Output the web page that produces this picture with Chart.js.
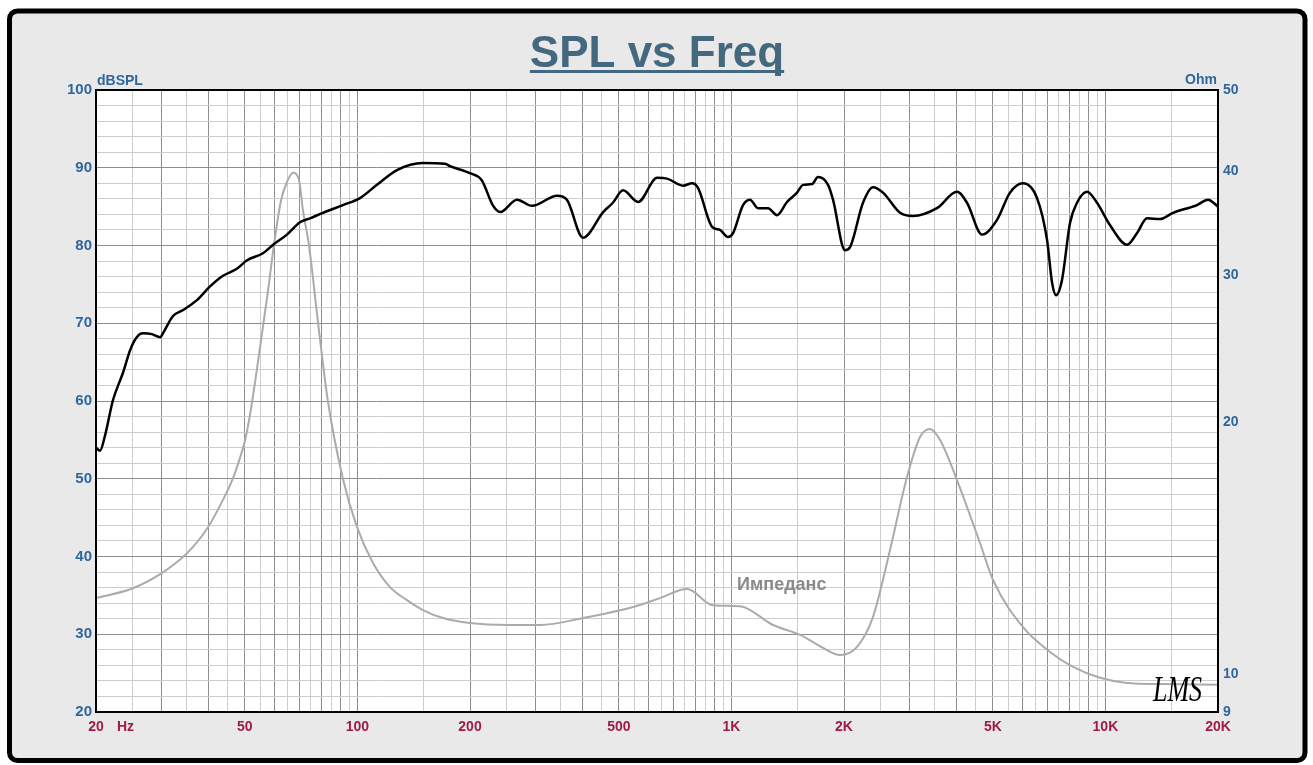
<!DOCTYPE html>
<html>
<head>
<meta charset="utf-8">
<title>SPL vs Freq</title>
<script src="https://cdn.jsdelivr.net/npm/chart.js@4.4.0/dist/chart.umd.min.js"></script>
<style>
  html, body { margin: 0; padding: 0; background: #fff; }
  canvas { display: block; }
</style>
</head>
<body>
<canvas id="splChart" width="1313" height="765"></canvas>
<script>
// SPL curve (Hz / dB)
const splFreq = [20, 20.5, 21.1, 22.2, 23.6, 24.7, 25.7, 26.7, 28.2, 29.7, 30.2, 32.1, 34.2, 37.3, 40.3, 43.7, 47.6, 50.7, 55.9, 59.5,
  64.8, 70.2, 74.7, 80.9, 91.5, 101.6, 112.8, 127.6, 149.7, 171.5, 176.8, 200, 215, 230, 241, 267, 293, 342, 363, 401,
  454, 482, 513, 563, 633, 673, 742, 785, 814, 888, 932, 979, 1010, 1074, 1121, 1178, 1253, 1324, 1408, 1498,
  1554, 1643, 1704, 1813, 1869, 2012, 2076, 2248, 2391, 2543, 2824, 3059, 3545, 4010, 4265, 4679, 5131, 5558, 6022, 6564,
  6982, 7201, 7381, 7656, 8041, 8396, 8930, 9498, 10290, 11425, 12150, 12920, 13996, 15160, 17578, 18804, 20000];
const splDb = [54.0, 53.6, 55.4, 60.1, 63.6, 66.6, 68.2, 68.7, 68.6, 68.2, 68.7, 70.9, 71.7, 73.0, 74.7, 76.1, 77.0, 78.1, 79.0, 80.1,
  81.4, 83.0, 83.5, 84.2, 85.2, 86.1, 87.8, 89.7, 90.6, 90.5, 90.2, 89.3, 88.4, 85.2, 84.3, 85.9, 85.1, 86.4, 85.9, 81.0,
  84.3, 85.5, 87.1, 85.6, 88.7, 88.6, 87.7, 88.0, 87.4, 82.4, 82.0, 81.1, 81.6, 85.2, 85.9, 84.8, 84.8, 83.9, 85.6, 86.8,
  87.8, 87.9, 88.8, 87.8, 85.9, 79.4, 79.8, 85.5, 87.5, 86.8, 84.2, 83.8, 84.8, 86.9, 85.5, 81.4, 83.3, 86.8, 88.0, 86.1,
  80.7, 75.2, 73.6, 75.6, 82.9, 85.5, 86.9, 85.5, 82.6, 80.1, 81.6, 83.5, 83.4, 84.2, 85.2, 85.9, 85.0];

// Impedance curve (Hz / Ohm)
const impFreq = [20, 25.1, 30, 33.5, 36.3, 39.9, 43.7, 46.5, 48.5, 50.1, 51.6, 53.6, 55.6, 57.7, 59.8, 62.5, 64.8, 67.3, 69.8, 71.5,
  74.2, 78.5, 83.4, 91.5, 99.7, 110.1, 122.2, 135.7, 149.7, 169.4, 200, 251, 308, 401, 546, 644, 761, 893, 1054, 1292,
  1526, 1758, 1952, 2167, 2391, 2655, 2948, 3194, 3397, 3613, 4010, 4620, 5007, 6022, 7110, 8194, 9674, 11425, 13996, 20000];
const impOhm = [12.32, 12.66, 13.20, 13.69, 14.18, 14.99, 16.15, 17.15, 18.12, 19.05, 20.4, 22.8, 25.6, 28.8, 32.6, 36.9, 38.8, 39.8, 39.0, 35.9,
  32.6, 26.3, 21.2, 17.11, 14.99, 13.57, 12.70, 12.25, 11.92, 11.66, 11.50, 11.44, 11.44, 11.66, 12.02, 12.32, 12.63, 12.08, 12.05, 11.44,
  11.13, 10.74, 10.53, 10.77, 11.70, 14.07, 17.2, 19.21, 19.64, 19.05, 17.06, 14.34, 12.95, 11.37, 10.62, 10.19, 9.89, 9.75, 9.72, 9.70];

// Tick labels
const freqTickValues = [20, 50, 100, 200, 500, 1000, 2000, 5000, 10000, 20000];
const freqTickLabels = ['20', '50', '100', '200', '500', '1K', '2K', '5K', '10K', '20K'];
const ohmTicks = [9, 10, 20, 30, 40, 50];

const labelBlue = '#2f679b';
const labelRed = '#9e1b4c';
const majorGrid = '#8e8e8e';
const minorGrid = '#cdcdcd';

// Grid frequencies: half-decade steps (20,25,30 ... 150,200 ... 15K,20K)
function buildFreqGrid() {
    const grid = [];
    [10, 100, 1000, 10000].forEach(dec => {
        for (let f = Math.max(dec, 20); f < dec * 10; f += dec / 2) {
            if (f <= 20000) grid.push(f);
        }
    });
    return grid;
}

function isMajorFreq(v) {
    const m = v / Math.pow(10, Math.floor(Math.log10(v) + 1e-9));
    return Math.abs(m - Math.round(m)) < 1e-6;
}

const dbGrid = [];
for (let v = 20; v <= 100; v += 2) dbGrid.push(v);

// Frame, title and free text
const framePlugin = {
    id: 'frame',
    beforeDraw(chart) {
        const ctx = chart.ctx;
        const a = chart.chartArea;
        ctx.save();
        ctx.fillStyle = '#ffffff';
        ctx.fillRect(0, 0, chart.width, chart.height);
        ctx.beginPath();
        ctx.roundRect(9.5, 11, 1295.5, 749.5, 8);
        ctx.fillStyle = '#e9e9e9';
        ctx.fill();
        ctx.lineWidth = 5;
        ctx.strokeStyle = '#000';
        ctx.stroke();
        ctx.fillStyle = '#ffffff';
        ctx.fillRect(a.left, a.top, a.right - a.left, a.bottom - a.top);
        ctx.restore();
    },
    afterDraw(chart) {
        const ctx = chart.ctx;
        const a = chart.chartArea;
        ctx.save();
        ctx.lineWidth = 2;
        ctx.strokeStyle = '#000';
        ctx.strokeRect(a.left, a.top, a.right - a.left, a.bottom - a.top);

        // title with underline
        ctx.font = 'bold 44px "Liberation Sans", Arial, sans-serif';
        ctx.fillStyle = '#44697f';
        ctx.textAlign = 'center';
        ctx.textBaseline = 'alphabetic';
        const title = 'SPL vs Freq';
        ctx.fillText(title, 657, 67);
        const w = ctx.measureText(title).width;
        ctx.fillRect(657 - w / 2, 70, w, 3);

        ctx.font = 'bold 14px "Liberation Sans", Arial, sans-serif';
        ctx.fillStyle = labelBlue;
        ctx.textAlign = 'left';
        ctx.fillText('dBSPL', 97, 85);
        ctx.textAlign = 'right';
        ctx.fillText('Ohm', 1217, 84);

        ctx.fillStyle = labelRed;
        ctx.textAlign = 'left';
        ctx.textBaseline = 'middle';
        ctx.fillText('Hz', 117, 727);

        ctx.font = 'bold 18px "Liberation Sans", Arial, sans-serif';
        ctx.fillStyle = '#8a8a8a';
        ctx.textBaseline = 'alphabetic';
        ctx.fillText('Импеданс', 737, 590);

        ctx.translate(1153, 701);
        ctx.scale(1, 1.4);
        ctx.font = 'italic 26px "Liberation Serif", serif';
        ctx.fillStyle = '#000';
        ctx.fillText('LMS', 0, 0);
        ctx.restore();
    }
};

const chart = new Chart(document.getElementById('splChart'), {
    type: 'line',
    data: {
        datasets: [{
            label: 'SPL',
            data: splFreq.map((f, i) => ({ x: f, y: splDb[i] })),
            yAxisID: 'y',
            borderColor: '#000',
            borderWidth: 2.5,
            pointRadius: 0,
            cubicInterpolationMode: 'monotone'
        }, {
            label: 'Импеданс',
            data: impFreq.map((f, i) => ({ x: f, y: impOhm[i] })),
            yAxisID: 'y1',
            borderColor: '#ababab',
            borderWidth: 2,
            pointRadius: 0,
            cubicInterpolationMode: 'monotone'
        }]
    },
    options: {
        responsive: false,
        devicePixelRatio: 1,
        animation: false,
        layout: { padding: { top: 90, left: 0, right: 0, bottom: 0 } },
        plugins: { legend: { display: false }, tooltip: { enabled: false } },
        scales: {
            x: {
                type: 'logarithmic',
                position: 'bottom',
                min: 20,
                max: 20000,
                afterBuildTicks: scale => { scale.ticks = buildFreqGrid().map(v => ({ value: v })); },
                afterFit: scale => { scale.height = 53; },
                border: { display: false },
                grid: {
                    drawTicks: false,
                    color: c => (c.tick && isMajorFreq(c.tick.value)) ? majorGrid : minorGrid
                },
                ticks: {
                    autoSkip: false,
                    maxRotation: 0,
                    padding: 7,
                    color: labelRed,
                    font: { family: '"Liberation Sans", Arial, sans-serif', size: 14, weight: 'bold' },
                    callback: v => {
                        const i = freqTickValues.indexOf(v);
                        return i >= 0 ? freqTickLabels[i] : '';
                    }
                }
            },
            y: {
                type: 'linear',
                position: 'left',
                min: 20,
                max: 100,
                afterBuildTicks: scale => { scale.ticks = dbGrid.map(v => ({ value: v })); },
                afterFit: scale => { scale.width = 96; },
                border: { display: false },
                grid: {
                    drawTicks: false,
                    color: c => (c.tick && c.tick.value % 10 === 0) ? majorGrid : minorGrid
                },
                ticks: {
                    autoSkip: false,
                    padding: 4,
                    color: labelBlue,
                    font: { family: '"Liberation Sans", Arial, sans-serif', size: 15, weight: 'bold' },
                    callback: v => (v % 10 === 0 ? String(v) : '')
                }
            },
            y1: {
                type: 'logarithmic',
                position: 'right',
                min: 9,
                max: 50,
                afterBuildTicks: scale => { scale.ticks = ohmTicks.map(v => ({ value: v })); },
                afterFit: scale => { scale.width = 95; },
                border: { display: false },
                grid: { display: false, drawTicks: false },
                ticks: {
                    autoSkip: false,
                    padding: 5,
                    color: labelBlue,
                    font: { family: '"Liberation Sans", Arial, sans-serif', size: 14, weight: 'bold' },
                    callback: v => String(v)
                }
            }
        }
    },
    plugins: [framePlugin]
});
</script>
</body>
</html>
